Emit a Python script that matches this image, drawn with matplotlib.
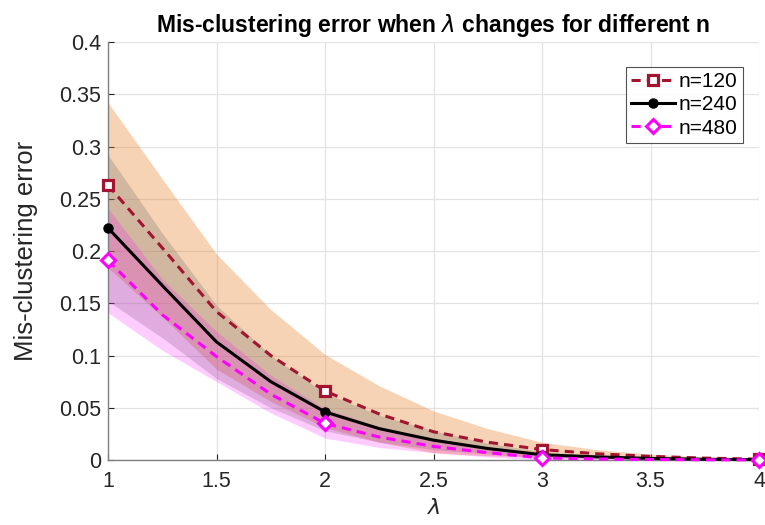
import numpy as np
import matplotlib
matplotlib.use('Agg')
import matplotlib.pyplot as plt

plt.rcParams['font.family'] = ['Liberation Sans', 'DejaVu Sans']
plt.rcParams['mathtext.fontset'] = 'dejavusans'

# lambda values and mis-clustering error (mean and spread)
lam = [1.0, 1.25, 1.5, 1.75, 2.0, 2.25, 2.5, 2.75, 3.0, 3.25, 3.5, 3.75, 4.0]
err_120 = [0.263, 0.203, 0.142, 0.100, 0.066, 0.044, 0.027, 0.017, 0.010, 0.006, 0.0035, 0.0018, 0.0008]
err_240 = [0.222, 0.167, 0.113, 0.075, 0.046, 0.030, 0.019, 0.011, 0.005, 0.003, 0.0015, 0.0007, 0.0003]
err_480 = [0.191, 0.139, 0.099, 0.063, 0.035, 0.022, 0.013, 0.007, 0.002, 0.001, 0.0005, 0.0002, 0.0001]
std_120 = [0.079, 0.066, 0.055, 0.044, 0.035, 0.027, 0.020, 0.013, 0.007, 0.004, 0.002, 0.001, 0.0004]
std_240 = [0.070, 0.050, 0.035, 0.025, 0.018, 0.013, 0.009, 0.005, 0.003, 0.0015, 0.0008, 0.0004, 0.0002]
std_480 = [0.050, 0.034, 0.024, 0.018, 0.014, 0.010, 0.006, 0.004, 0.002, 0.001, 0.0005, 0.0002, 0.0001]
series_labels = ['n=120', 'n=240', 'n=480']

x_ticks = [1, 1.5, 2, 2.5, 3, 3.5, 4]
x_tick_labels = ['1', '1.5', '2', '2.5', '3', '3.5', '4']
y_ticks = [0, 0.05, 0.1, 0.15, 0.2, 0.25, 0.3, 0.35, 0.4]
y_tick_labels = ['0', '0.05', '0.1', '0.15', '0.2', '0.25', '0.3', '0.35', '0.4']

fig = plt.figure(figsize=(7.65, 5.25), dpi=100)
ax = fig.add_axes([0.1412, 0.1238, 0.851, 0.7962])

x = np.array(lam)
marks = [i for i, v in enumerate(lam) if float(v).is_integer()]

# shaded bands (mean +/- spread)
bands = [
    (err_120, std_120, '#E8812A', 0.35),
    (err_240, std_240, '#6E6A6A', 0.26),
    (err_480, std_480, '#FF00FF', 0.20),
]
for m, s, c, a in bands:
    m = np.array(m)
    s = np.array(s)
    ax.fill_between(x, np.clip(m - s, 0, None), m + s, color=c, alpha=a,
                    linewidth=0)

red = '#A2142F'
ax.plot(x, err_120, color=red, linestyle='--', dashes=(3.0, 2.0), linewidth=2.2,
        marker='s', markersize=7, markerfacecolor='white', markeredgecolor=red,
        markeredgewidth=2.3, markevery=marks, label=series_labels[0], clip_on=False, zorder=5)
ax.plot(x, err_240, color='black', linestyle='-', linewidth=2.2,
        marker='o', markersize=6.5, markerfacecolor='black', markeredgecolor='black',
        markevery=marks, label=series_labels[1], clip_on=False, zorder=6)
ax.plot(x, err_480, color='#FF00FF', linestyle='--', dashes=(3.0, 2.0), linewidth=2.2,
        marker='D', markersize=7, markerfacecolor='white', markeredgecolor='#FF00FF',
        markeredgewidth=2.2, markevery=marks, label=series_labels[2], clip_on=False, zorder=7)

ax.set_xlim(1, 4)
ax.set_ylim(0, 0.4)
ax.set_xticks(x_ticks)
ax.set_xticklabels(x_tick_labels)
ax.set_yticks(y_ticks)
ax.set_yticklabels(y_tick_labels)
ax.tick_params(direction='in', length=4, width=0.8, colors='#262626',
               labelsize=15.5)
ax.tick_params(axis='y', pad=5)
ax.tick_params(axis='x', pad=8)
ax.grid(True, color='#E3E3E3', linewidth=0.9)
ax.set_axisbelow(True)

for side in ['top', 'right']:
    ax.spines[side].set_visible(False)
for side in ['left', 'bottom']:
    ax.spines[side].set_color('#808080')
    ax.spines[side].set_linewidth(1.0)

ax.set_title(r'Mis-clustering error when $\lambda$ changes for different n',
             fontsize=16.5, fontweight='bold', pad=7)
ax.set_ylabel('Mis-clustering error', fontsize=18.5, color='#262626', labelpad=15)
ax.set_xlabel(r'$\lambda$', fontsize=16, color='#262626', labelpad=4)

leg = ax.legend(loc='upper right', bbox_to_anchor=(0.985, 0.955), fontsize=15,
                frameon=True, fancybox=False, handlelength=2.1, borderpad=0.25,
                labelspacing=0.2, handletextpad=0.2, borderaxespad=0.3)
leg.get_frame().set_edgecolor('#262626')
leg.get_frame().set_linewidth(0.8)

fig.savefig('out.png', dpi=100)
